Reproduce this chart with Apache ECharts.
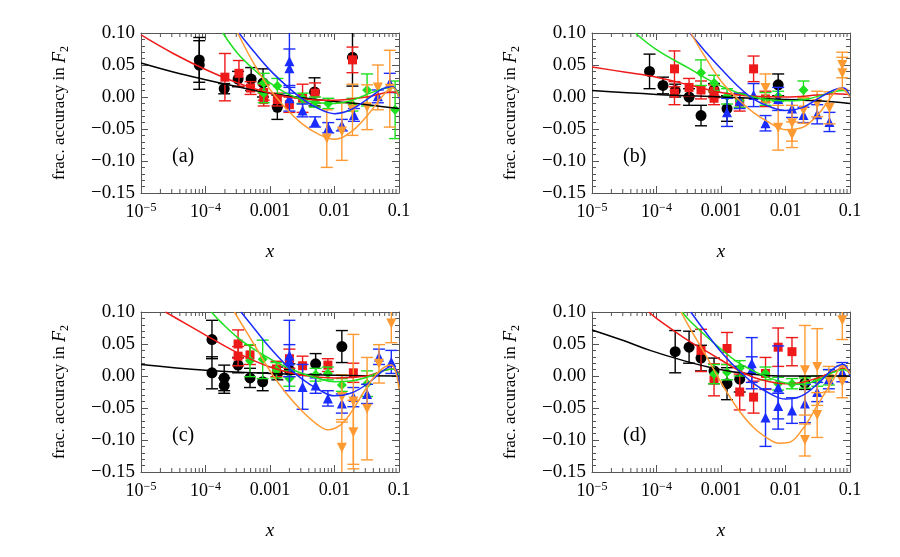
<!DOCTYPE html>
<html>
<head>
<meta charset="utf-8">
<script src="https://cdn.jsdelivr.net/npm/echarts@6/dist/echarts.min.js"></script>
<style>
  html, body { margin: 0; padding: 0; background: #fff; }
  #main { width: 900px; height: 557px; }
</style>
</head>
<body>
<div id="main"></div>
<script>
// tick labels
var xTicks = [1e-5, 1e-4, 1e-3, 1e-2, 1e-1];
var xTickText = ['{b|10}{s|−5}', '{b|10}{s|−4}', '0.001', '0.01', '0.1'];
var yTickText = ['−0.15', '−0.10', '−0.05', '0.00', '0.05', '0.10'];
var panelLabels = ['(a)', '(b)', '(c)', '(d)'];

// points: [x, value, error]
// (a)
var aBlack = [[8e-5,0.058,0.035],[8e-5,0.050,0.038],[1.95e-4,0.013,0.008],[3.2e-4,0.028,0.012],[5.1e-4,0.028,0.018],[7.8e-4,0.022,0.022],[1.3e-3,-0.016,0.019],[4.9e-3,0.008,0.022],[1.9e-2,0.062,0.045]];
var aRed = [[2e-4,0.031,0.037],[3.3e-4,0.037,0.02],[5e-4,0.014,0.01],[8e-4,0.007,0.012],[8e-4,-0.004,0.01],[1.3e-3,-0.004,0.01],[2e-3,-0.012,0.012],[3.2e-3,-0.002,0.022],[5e-3,0.006,0.016],[1.9e-2,0.058,0.02]];
var aGreen = [[8e-4,0.022,0.015],[8e-4,0.006,0.015],[1.3e-3,0.017,0.012],[3.2e-3,-0.002,0.008],[5e-3,-0.008,0.008],[8e-3,-0.01,0.008],[1.9e-2,-0.012,0.01],[3.2e-2,0.011,0.025],[8.7e-2,-0.02,0.045]];
var aBlue = [[2e-3,0.056,0.05],[2e-3,0.045,0.03],[2e-3,-0.002,0.02],[3.2e-3,-0.021,0.01],[5e-3,-0.039,0.008],[8e-3,-0.048,0.008],[1.3e-2,-0.044,0.009],[2e-2,-0.028,0.01],[4.7e-2,0.001,0.01],[7.2e-2,0.022,0.015]];
var aOrange = [[7.6e-3,-0.065,0.045],[1.3e-2,-0.054,0.045],[1.9e-2,-0.02,0.04],[3.2e-2,-0.016,0.035],[4.7e-2,0.015,0.035],[7.2e-2,0.013,0.06]];
// (b)
var bBlack = [[7.8e-5,0.040,0.027],[1.26e-4,0.018,0.013],[1.95e-4,0.01,0.01],[3.2e-4,0.0,0.013],[4.9e-4,-0.029,0.016],[7.8e-4,0.011,0.01],[1.24e-3,-0.018,0.02],[7.7e-3,0.019,0.017]];
var bRed = [[1.9e-4,0.044,0.028],[1.9e-4,0.006,0.018],[3.2e-4,0.015,0.014],[4.9e-4,0.011,0.014],[7.8e-4,-0.002,0.01],[7.8e-4,0.009,0.01],[1.95e-3,-0.008,0.014],[3.2e-3,0.044,0.02],[4.9e-3,-0.003,0.012]];
var bGreen = [[4.9e-4,0.038,0.02],[7.8e-4,0.022,0.012],[1.24e-3,0.001,0.012],[1.95e-3,-0.006,0.01],[4.9e-3,-0.003,0.01],[7.7e-3,0.001,0.008],[1.9e-2,0.011,0.014]];
var bBlue = [[1.24e-3,-0.024,0.022],[1.95e-3,-0.006,0.012],[3.2e-3,0.003,0.018],[4.9e-3,-0.041,0.012],[7.7e-3,-0.003,0.018],[1.26e-2,-0.018,0.014],[1.9e-2,-0.028,0.012],[3.1e-2,-0.027,0.015],[4.8e-2,-0.039,0.015]];
var bOrange = [[4.9e-3,0.014,0.022],[7.7e-3,-0.048,0.035],[1.26e-2,-0.041,0.028],[1.26e-2,-0.059,0.02],[1.9e-2,-0.021,0.02],[3.1e-2,-0.011,0.02],[4.8e-2,-0.017,0.025],[7.6e-2,0.050,0.02],[7.6e-2,0.037,0.025]];
// (c)
var cBlack = [[1.26e-4,0.057,0.03],[1.26e-4,0.005,0.025],[1.95e-4,-0.003,0.02],[1.95e-4,-0.015,0.012],[3.2e-4,0.017,0.012],[4.9e-4,-0.003,0.015],[7.7e-4,-0.009,0.014],[1.3e-3,0.004,0.01],[2e-3,0.009,0.01],[5.1e-3,0.019,0.016],[1.3e-2,0.046,0.025]];
var cRed = [[3.2e-4,0.050,0.022],[3.2e-4,0.031,0.015],[4.9e-4,0.033,0.015],[1.26e-3,0.011,0.012],[2e-3,0.027,0.015],[3.2e-3,0.016,0.015],[7.9e-3,0.017,0.01],[1.96e-2,0.005,0.015]];
var cGreen = [[4.9e-4,0.024,0.025],[7.7e-4,0.026,0.03],[1.26e-3,0.009,0.012],[2e-3,-0.004,0.012],[5.1e-3,0.002,0.01],[7.9e-3,0.004,0.01],[1.3e-2,-0.014,0.01],[3.2e-2,-0.012,0.02]];
var cBlue = [[2e-3,0.032,0.055],[2e-3,0.024,0.025],[3.2e-3,-0.017,0.035],[5.1e-3,-0.015,0.012],[7.9e-3,-0.035,0.012],[1.3e-2,-0.043,0.015],[1.96e-2,-0.033,0.015],[3.2e-2,-0.028,0.015],[4.9e-2,0.03,0.012],[7.6e-2,0.022,0.018]];
var cOrange = [[1.3e-2,-0.033,0.035],[1.3e-2,-0.112,0.04],[1.96e-2,-0.04,0.105],[1.96e-2,-0.088,0.05],[3.2e-2,-0.051,0.08],[4.9e-2,0.019,0.03],[7.6e-2,0.082,0.03]];
// (d)
var dBlack = [[1.95e-4,0.038,0.033],[3.2e-4,0.045,0.025],[4.9e-4,0.028,0.02],[7.8e-4,0.008,0.02],[1.24e-3,-0.012,0.025],[1.95e-3,-0.005,0.02],[2e-2,-0.011,0.01]];
var dRed = [[4.9e-4,0.040,0.033],[7.8e-4,-0.006,0.025],[1.24e-3,0.043,0.025],[1.95e-3,-0.025,0.028],[3.2e-3,-0.033,0.025],[4.9e-3,0.004,0.025],[7.7e-3,0.045,0.03],[1.26e-2,0.038,0.022]];
var dGreen = [[7.8e-4,0.003,0.015],[1.24e-3,0.006,0.012],[1.95e-3,0.012,0.012],[4.9e-3,0.004,0.01],[7.7e-3,-0.012,0.01],[1.26e-2,-0.012,0.008],[2e-2,-0.011,0.008],[3.1e-2,-0.008,0.008],[4.7e-2,-0.002,0.012]];
var dBlue = [[3e-3,0.02,0.04],[3e-3,0.01,0.02],[4.9e-3,-0.065,0.045],[7.7e-3,-0.018,0.065],[7.7e-3,-0.047,0.02],[1.26e-2,-0.054,0.02],[2e-2,-0.043,0.03],[3.1e-2,-0.025,0.015],[4.7e-2,-0.005,0.015],[7.6e-2,0.006,0.015]];
var dOrange = [[2e-2,0.009,0.07],[2e-2,-0.1,0.025],[3.1e-2,0.014,0.06],[3.1e-2,-0.061,0.035],[4.7e-2,-0.005,0.02],[7.6e-2,0.087,0.03],[7.6e-2,-0.009,0.025]];

// fitted curves: [x, value]
var aBlackFit = [[1e-5,0.053],[3.16e-5,0.039],[1e-4,0.027],[3.16e-4,0.016],[1e-3,0.006],[3.16e-3,-0.001],[1e-2,-0.007],[3.16e-2,-0.012],[1e-1,-0.018]];
var aRedFit = [[1e-5,0.097],[3.16e-5,0.068],[1e-4,0.043],[3.16e-4,0.022],[1e-3,0.006],[3.16e-3,-0.003],[1e-2,-0.005],[3.16e-2,0.0],[5.62e-2,0.006],[7.94e-2,0.008],[1e-1,0.005]];
var aGreenFit = [[1.86e-4,0.10],[3.16e-4,0.068],[5.62e-4,0.043],[1e-3,0.022],[1.78e-3,0.006],[3.16e-3,-0.004],[5.62e-3,-0.009],[1e-2,-0.010],[1.78e-2,-0.006],[3.16e-2,0.004],[5.62e-2,0.013],[7.94e-2,0.015],[1e-1,0.005]];
var aBlueFit = [[3.3e-4,0.10],[5.62e-4,0.071],[1e-3,0.042],[1.78e-3,0.018],[3.16e-3,-0.003],[5.62e-3,-0.018],[1e-2,-0.026],[1.78e-2,-0.020],[3.16e-2,-0.004],[5.62e-2,0.013],[7.94e-2,0.016],[1e-1,-0.002]];
var aOrangeFit = [[3.16e-4,0.10],[5.62e-4,0.052],[1e-3,0.012],[1.78e-3,-0.018],[3.16e-3,-0.042],[5.62e-3,-0.058],[1e-2,-0.066],[1.78e-2,-0.055],[3.16e-2,-0.030],[5.62e-2,0.002],[7.94e-2,0.015],[1e-1,0.0]];

var bBlackFit = [[1e-5,0.010],[1e-4,0.004],[1e-3,0.0],[1e-2,-0.004],[3.16e-2,-0.006],[1e-1,-0.010]];
var bRedFit = [[1e-5,0.047],[3.16e-5,0.039],[1e-4,0.031],[3.16e-4,0.019],[1e-3,0.007],[3.16e-3,0.001],[1e-2,0.0],[3.16e-2,0.003],[5.62e-2,0.005],[1e-1,0.004]];
var bGreenFit = [[4.7e-5,0.10],[1e-4,0.074],[3.16e-4,0.045],[1e-3,0.017],[3.16e-3,0.0],[1e-2,-0.006],[1.78e-2,-0.005],[3.16e-2,0.001],[5.62e-2,0.008],[7.94e-2,0.010],[1e-1,0.002]];
var bBlueFit = [[3.3e-4,0.10],[5.62e-4,0.072],[1e-3,0.044],[1.78e-3,0.018],[3.16e-3,-0.003],[5.62e-3,-0.015],[1e-2,-0.021],[1.78e-2,-0.017],[3.16e-2,-0.003],[5.62e-2,0.011],[7.94e-2,0.014],[1e-1,0.0]];
var bOrangeFit = [[3.4e-4,0.10],[5.62e-4,0.063],[1e-3,0.025],[1.78e-3,-0.002],[3.16e-3,-0.024],[5.62e-3,-0.040],[1e-2,-0.051],[1.78e-2,-0.048],[3.16e-2,-0.028],[5.62e-2,0.006],[7.08e-2,0.014],[1e-1,0.0]];

var cBlackFit = [[1e-5,0.018],[1e-4,0.009],[1e-3,0.004],[1e-2,0.001],[1e-1,0.0]];
var cRedFit = [[2.4e-5,0.10],[3.16e-5,0.093],[1e-4,0.064],[3.16e-4,0.036],[1e-3,0.014],[3.16e-3,0.001],[1e-2,-0.003],[3.16e-2,0.0],[5.62e-2,0.008],[7.94e-2,0.011],[1e-1,0.005]];
var cGreenFit = [[1.23e-4,0.10],[1.78e-4,0.083],[3.16e-4,0.060],[5.62e-4,0.042],[1e-3,0.027],[1.78e-3,0.014],[3.16e-3,0.004],[5.62e-3,-0.004],[1e-2,-0.009],[1.78e-2,-0.008],[3.16e-2,-0.002],[5.62e-2,0.008],[7.94e-2,0.011],[1e-1,0.002]];
var cBlueFit = [[3.55e-4,0.10],[5.62e-4,0.075],[1e-3,0.044],[1.78e-3,0.017],[3.16e-3,-0.005],[5.62e-3,-0.021],[1e-2,-0.031],[1.78e-2,-0.027],[3.16e-2,-0.013],[5.62e-2,0.008],[7.94e-2,0.016],[1e-1,-0.012]];
var cOrangeFit = [[2.8e-4,0.10],[5.62e-4,0.050],[1e-3,0.008],[1.78e-3,-0.027],[3.16e-3,-0.055],[5.62e-3,-0.077],[7.94e-3,-0.084],[1.26e-2,-0.076],[1.78e-2,-0.058],[3.16e-2,-0.018],[5.01e-2,0.008],[7.59e-2,0.017],[1e-1,-0.02]];

var dBlackFit = [[1e-5,0.072],[3.16e-5,0.055],[7.94e-5,0.040],[2.63e-4,0.024],[8.71e-4,0.011],[2.82e-3,0.003],[7.94e-3,0.0],[3.16e-2,0.0],[1e-1,0.0]];
var dRedFit = [[7.6e-5,0.10],[1e-4,0.090],[1.78e-4,0.072],[3.16e-4,0.055],[5.62e-4,0.040],[1e-3,0.025],[1.78e-3,0.010],[3.16e-3,-0.002],[5.62e-3,-0.009],[1e-2,-0.012],[1.78e-2,-0.010],[3.16e-2,-0.003],[5.62e-2,0.007],[7.94e-2,0.012],[1e-1,0.008]];
var dGreenFit = [[2.5e-4,0.10],[3.16e-4,0.088],[5.62e-4,0.064],[1e-3,0.042],[1.78e-3,0.022],[3.16e-3,0.008],[5.62e-3,-0.003],[1e-2,-0.011],[1.78e-2,-0.013],[3.16e-2,-0.006],[5.62e-2,0.006],[7.94e-2,0.010],[1e-1,0.004]];
var dBlueFit = [[3.4e-4,0.10],[5.62e-4,0.070],[1e-3,0.038],[1.78e-3,0.011],[3.16e-3,-0.011],[5.62e-3,-0.027],[1e-2,-0.036],[1.78e-2,-0.031],[3.16e-2,-0.012],[5.62e-2,0.012],[7.94e-2,0.018],[1e-1,0.0]];
var dOrangeFit = [[2.4e-4,0.10],[3.16e-4,0.078],[5.62e-4,0.035],[1e-3,-0.010],[1.78e-3,-0.050],[3.16e-3,-0.080],[5.62e-3,-0.099],[7.94e-3,-0.105],[1.12e-2,-0.104],[1.78e-2,-0.085],[3.16e-2,-0.045],[5.62e-2,-0.004],[7.59e-2,0.016],[1e-1,0.003]];

var COLORS = ['#000000', '#ee1a1a', '#1ee01e', '#1a2cff', '#ff9a33'];
var SYMBOLS = ['circle', 'rect', 'diamond', 'triangle', 'triangle'];
var ROTATE = [0, 0, 0, 0, 180];
var SIZES = [11, 9, 10, 10, 10];
var FRAME = '#555555';
var SERIF = 'Liberation Serif';

var panels = [
    {left: 141, top: 33, pts: [aBlack, aRed, aGreen, aBlue, aOrange], fits: [aBlackFit, aRedFit, aGreenFit, aBlueFit, aOrangeFit]},
    {left: 592, top: 33, pts: [bBlack, bRed, bGreen, bBlue, bOrange], fits: [bBlackFit, bRedFit, bGreenFit, bBlueFit, bOrangeFit]},
    {left: 141, top: 312, pts: [cBlack, cRed, cGreen, cBlue, cOrange], fits: [cBlackFit, cRedFit, cGreenFit, cBlueFit, cOrangeFit]},
    {left: 592, top: 312, pts: [dBlack, dRed, dGreen, dBlue, dOrange], fits: [dBlackFit, dRedFit, dGreenFit, dBlueFit, dOrangeFit]}
];

// minor tick positions on the log axis (2..9 of each decade)
var minorX = [];
for (var d = -5; d < -1; d++) {
    for (var k = 2; k <= 9; k++) minorX.push([k * Math.pow(10, d), 0]);
}

function xLabel(v) {
    var e = Math.round(Math.log(v) / Math.LN10);
    var i = xTicks.indexOf(Math.pow(10, e));
    return i >= 0 ? xTickText[i] : '';
}
function yLabel(v) {
    var i = Math.round((v + 0.15) / 0.05);
    return yTickText[i] || '';
}

function renderErr(params, api) {
    var x = api.value(0), y = api.value(1), e = api.value(2);
    var hi = api.coord([x, y + e]), lo = api.coord([x, y - e]);
    var w = 6;
    var st = {stroke: api.visual('color'), lineWidth: 1.4};
    return {
        type: 'group',
        children: [
            {type: 'line', shape: {x1: hi[0], y1: hi[1], x2: lo[0], y2: lo[1]}, style: st},
            {type: 'line', shape: {x1: hi[0] - w, y1: hi[1], x2: hi[0] + w, y2: hi[1]}, style: st},
            {type: 'line', shape: {x1: lo[0] - w, y1: lo[1], x2: lo[0] + w, y2: lo[1]}, style: st}
        ]
    };
}

function renderMinor(params, api) {
    var x = api.value(0);
    var b = api.coord([x, -0.15]), t = api.coord([x, 0.10]);
    var st = {stroke: FRAME, lineWidth: 1};
    return {
        type: 'group',
        children: [
            {type: 'line', shape: {x1: b[0], y1: b[1], x2: b[0], y2: b[1] - 4}, style: st},
            {type: 'line', shape: {x1: t[0], y1: t[1], x2: t[0], y2: t[1] + 4}, style: st}
        ]
    };
}

var grids = [], xAxes = [], yAxes = [], series = [], graphics = [];

panels.forEach(function (p, i) {
    grids.push({left: p.left, top: p.top, width: 258, height: 160});

    [true, false].forEach(function (bottom) {
        xAxes.push({
            type: 'log', logBase: 10, gridIndex: i, min: 1e-5, max: 0.1,
            position: bottom ? 'bottom' : 'top',
            splitLine: {show: false},
            axisLine: {onZero: false, lineStyle: {color: FRAME, width: 1}},
            axisTick: {inside: true, length: 7, lineStyle: {color: FRAME}},
            axisLabel: bottom ? {
                formatter: xLabel, margin: 9, color: '#000', fontFamily: SERIF, fontSize: 18,
                rich: {
                    b: {fontFamily: SERIF, fontSize: 18, color: '#000', lineHeight: 21},
                    s: {fontFamily: SERIF, fontSize: 12, color: '#000', verticalAlign: 'top', lineHeight: 21}
                }
            } : {show: false},
            name: bottom ? 'x' : '',
            nameLocation: 'middle', nameGap: 49,
            nameTextStyle: {fontFamily: SERIF, fontStyle: 'italic', fontSize: 19, color: '#000'}
        });
        yAxes.push({
            type: 'value', gridIndex: i, min: -0.15, max: 0.10, interval: 0.05,
            position: bottom ? 'left' : 'right',
            splitLine: {show: false},
            axisLine: {onZero: false, lineStyle: {color: FRAME, width: 1}},
            axisTick: {inside: true, length: 7, lineStyle: {color: FRAME}},
            minorTick: {show: true, splitNumber: 5, length: 4, lineStyle: {color: FRAME}},
            axisLabel: bottom ? {formatter: yLabel, margin: 6, color: '#000', fontFamily: SERIF, fontSize: 19} : {show: false},
            name: bottom ? 'frac. accuracy in {i|F}{sub|2}' : '',
            nameLocation: 'middle', nameRotate: 90, nameGap: 70,
            nameTextStyle: {
                fontFamily: SERIF, fontSize: 17, color: '#000',
                rich: {
                    i: {fontFamily: SERIF, fontStyle: 'italic', fontSize: 18, color: '#000', lineHeight: 22},
                    sub: {fontFamily: SERIF, fontSize: 12, color: '#000', verticalAlign: 'bottom', lineHeight: 22}
                }
            }
        });
    });

    var xi = 2 * i, yi = 2 * i;

    series.push({
        type: 'custom', xAxisIndex: xi, yAxisIndex: yi, silent: true, z: 1,
        renderItem: renderMinor, data: minorX, encode: {x: 0, y: 1}
    });

    p.pts.forEach(function (pts, c) {
        series.push({
            type: 'custom', xAxisIndex: xi, yAxisIndex: yi, clip: true, silent: true, z: 2 + c * 2,
            itemStyle: {color: COLORS[c]},
            renderItem: renderErr, data: pts, encode: {x: 0, y: 1}
        });
        series.push({
            type: 'scatter', xAxisIndex: xi, yAxisIndex: yi, clip: true, silent: true, z: 3 + c * 2,
            symbol: SYMBOLS[c], symbolRotate: ROTATE[c], symbolSize: SIZES[c],
            itemStyle: {color: COLORS[c], opacity: 1},
            data: pts.map(function (q) { return [q[0], q[1]]; })
        });
    });

    p.fits.forEach(function (fit, c) {
        series.push({
            type: 'line', xAxisIndex: xi, yAxisIndex: yi, clip: true, silent: true, z: 20,
            showSymbol: false, smooth: 0.4,
            lineStyle: {color: COLORS[c], width: 1.5},
            data: fit
        });
    });

    graphics.push({
        type: 'text', x: p.left + 31, y: p.top + 124,
        style: {text: panelLabels[i], fontFamily: SERIF, fontSize: 20, fill: '#000', verticalAlign: 'middle'}
    });
});

var chart = echarts.init(document.getElementById('main'));
chart.setOption({
    animation: false,
    backgroundColor: '#ffffff',
    grid: grids,
    xAxis: xAxes,
    yAxis: yAxes,
    series: series,
    graphic: graphics
});
</script>
</body>
</html>
